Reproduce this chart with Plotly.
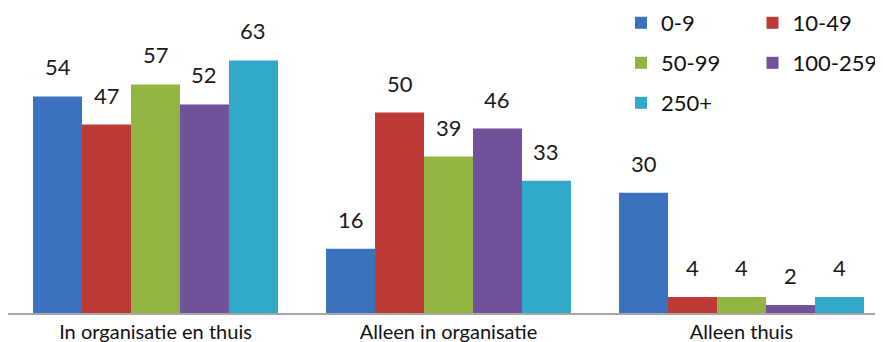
import plotly.graph_objects as go

categories = ["In organisatie en thuis", "Alleen in organisatie", "Alleen thuis"]
series_names = ["0-9", "10-49", "50-99", "100-259", "250+"]
v_0_9 = [54, 16, 30]
v_10_49 = [47, 50, 4]
v_50_99 = [57, 39, 4]
v_100_259 = [52, 46, 2]
v_250 = [63, 33, 4]
series_values = [v_0_9, v_10_49, v_50_99, v_100_259, v_250]
colors = ["#3a72c0", "#bd3a36", "#92b541", "#71519c", "#31a8c8"]
legend_ids = ["legend", "legend", "legend2", "legend2", "legend3"]

FONT = "Lato"
BARGAP = 0.164
n = len(series_names)
W, H = 875, 334  # page body adds an 8px offset; figure fills the rest of the window

fig = go.Figure()
for j, (name, vals, col, lg) in enumerate(zip(series_names, series_values, colors, legend_ids)):
    fig.add_trace(go.Bar(
        x=list(range(len(categories))), y=vals, name=name,
        marker=dict(color=col, line=dict(width=0)),
        legend=lg, hoverinfo="skip",
    ))

annotations = []
bw = (1 - BARGAP) / n
for j, vals in enumerate(series_values):
    for i, v in enumerate(vals):
        annotations.append(dict(
            x=i + (j - (n - 1) / 2) * bw, y=v, xref="x", yref="y",
            text=str(v), showarrow=False, yanchor="bottom", yshift=14,
            font=dict(family=FONT, size=22, color="#1a1a1a"),
        ))

legend_common = dict(
    orientation="h", xref="container", yref="container",
    xanchor="left", yanchor="middle", entrywidth=86.5, entrywidthmode="pixels",
    font=dict(family=FONT, size=22, color="#111"), bgcolor="rgba(0,0,0,0)",
    borderwidth=0, traceorder="normal",
)
LX = 613 / W

fig.update_layout(
    width=W, height=H,
    margin=dict(l=0, r=0, t=12, b=29, pad=0, autoexpand=False),
    plot_bgcolor="white", paper_bgcolor="white",
    barmode="group", bargap=BARGAP, bargroupgap=0,
    showlegend=True,
    legend=dict(x=LX, y=1 - 15 / H, **legend_common),
    legend2=dict(x=LX, y=1 - 55 / H, **legend_common),
    legend3=dict(x=LX, y=1 - 95 / H, **legend_common),
    annotations=annotations,
    xaxis=dict(
        tickmode="array", tickvals=list(range(len(categories))), ticktext=categories,
        range=[-0.5034, 2.4829], showgrid=False, zeroline=False, automargin=False,
        showline=True, linecolor="#a6a6a6", linewidth=2, ticks="",
        tickfont=dict(family=FONT, size=20, color="#111"),
    ),
    yaxis=dict(range=[0, 73.07], visible=False, showgrid=False, zeroline=False,
               automargin=False),
)

fig.write_html("out.html")
